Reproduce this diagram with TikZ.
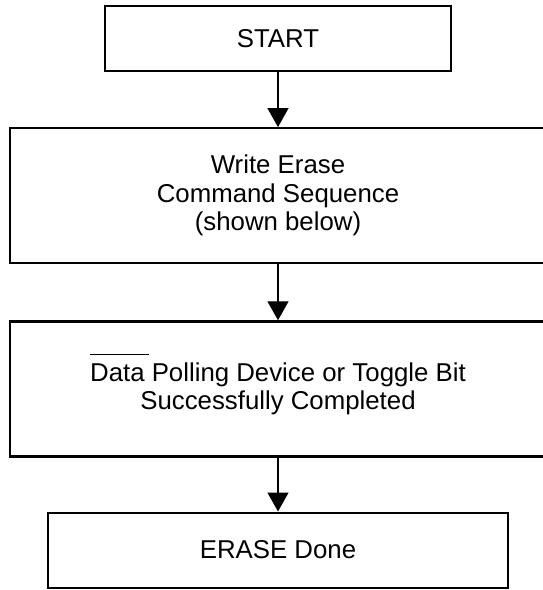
\documentclass[tikz,border=0pt]{standalone}
\usepackage{fontspec}
\setmainfont{Liberation Sans}
\usetikzlibrary{positioning, arrows.meta}

\newcommand{\barred}[2]{\rlap{\smash{\raisebox{26pt}{\rule{#1}{1.3pt}}}}#2}

\begin{document}
\begin{tikzpicture}[x=1pt, y=1pt, node distance=55pt,
    box/.style={draw, line width=2.2pt, inner sep=0pt, align=center,
        font=\fontsize{25.8}{28.5}\selectfont},
    flow/.style={line width=1.3pt, -{Triangle[width=21pt,length=19pt]}}]
    \useasboundingbox (0,0) rectangle (542,-590);

    \node[box, minimum width=346pt, minimum height=65pt] (start) at (278,-38.5) {START};
    \node[box, minimum width=536pt, minimum height=135pt] (write) [below=of start]
        {Write Erase\\Command Sequence\\(shown below)};
    \node[box, minimum width=536pt, minimum height=135pt] (poll) [below=56pt of write]
        {\barred{59pt}{Data} Polling Device or Toggle Bit\\Successfully Completed};
    \node[box, minimum width=460pt, minimum height=75pt] (done) [below=54pt of poll] {ERASE Done};

    \path[flow]
        (start) edge (write)
        (write) edge (poll)
        (poll)  edge (done);
\end{tikzpicture}
\end{document}
